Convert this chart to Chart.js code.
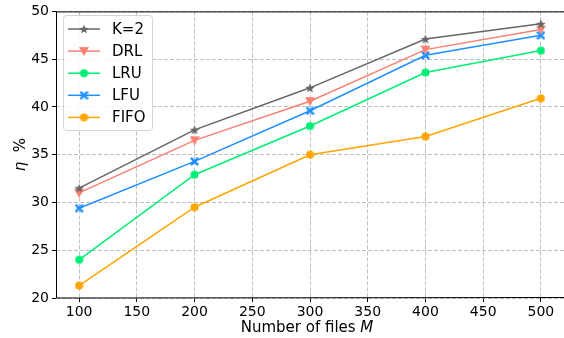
<!DOCTYPE html>
<html>
<head>
<meta charset="utf-8">
<script src="https://cdn.jsdelivr.net/npm/chart.js@4"></script>
<style>
  html, body { margin: 0; padding: 0; background: #fff; }
  #wrap { width: 564px; height: 338px; }
</style>
</head>
<body>
<div id="wrap"><canvas id="chart" width="564" height="338"></canvas></div>
<script>
// Data
const files = [100, 200, 300, 400, 500];
const k2 = [31.5, 37.6, 42.0, 47.1, 48.7];
const drl = [31.0, 36.5, 40.6, 46.0, 48.1];
const lru = [24.0, 32.9, 38.0, 43.6, 45.9];
const lfu = [29.4, 34.3, 39.6, 45.4, 47.5];
const fifo = [21.3, 29.5, 35.0, 36.9, 40.9];
const xTicks = [100, 150, 200, 250, 300, 350, 400, 450, 500];
const yTicks = [20, 25, 30, 35, 40, 45, 50];

const FONT = "'DejaVu Sans', sans-serif";

// marker images (matplotlib-like shapes)
function makeMarker(shape, color, size) {
    const c = document.createElement("canvas");
    c.width = size;
    c.height = size;
    const g = c.getContext("2d");
    const m = size / 2;
    g.fillStyle = color;
    g.beginPath();
    if (shape === "star") {
        const ro = m, ri = m * 0.42;
        for (let i = 0; i < 10; i++) {
            const r = i % 2 ? ri : ro;
            const a = -Math.PI / 2 + i * Math.PI / 5;
            g.lineTo(m + r * Math.cos(a), m + 0.5 + r * Math.sin(a));
        }
    } else if (shape === "tridown") {
        g.moveTo(0, 1);
        g.lineTo(size, 1);
        g.lineTo(m, size);
    } else if (shape === "x") {
        const t = size * 0.2;
        const pts = [[0, t], [t, 0], [m, m - t], [size - t, 0], [size, t], [m + t, m],
                     [size, size - t], [size - t, size], [m, m + t], [t, size], [0, size - t], [m - t, m]];
        pts.forEach(p => g.lineTo(p[0], p[1]));
    } else {
        g.arc(m, m, m - 0.5, 0, Math.PI * 2);
    }
    g.closePath();
    g.fill();
    return c;
}

const series = [
    { label: "K=2", data: k2, color: "#666666", marker: makeMarker("star", "#666666", 10) },
    { label: "DRL", data: drl, color: "#fa8072", marker: makeMarker("tridown", "#fa8072", 10) },
    { label: "LRU", data: lru, color: "#00ee76", marker: makeMarker("circle", "#00ee76", 9) },
    { label: "LFU", data: lfu, color: "#1e90ff", marker: makeMarker("x", "#1e90ff", 9) },
    { label: "FIFO", data: fifo, color: "#ffa500", marker: makeMarker("circle", "#ffa500", 9) }
];

// frame, axis titles and legend
const decor = {
    id: "decor",
    afterDatasetsDraw(chart) {
        const { ctx, chartArea: a } = chart;
        ctx.save();
        ctx.strokeStyle = "#000";
        ctx.lineWidth = 1;
        ctx.beginPath();
        ctx.moveTo(a.left + 0.5, a.top + 0.5);
        ctx.lineTo(a.right + 2, a.top + 0.5);
        ctx.moveTo(a.left + 0.5, a.top);
        ctx.lineTo(a.left + 0.5, a.bottom);
        ctx.lineTo(a.right + 2, a.bottom - 0.5);
        ctx.stroke();

        // x title
        ctx.fillStyle = "#000";
        ctx.textBaseline = "alphabetic";
        const t1 = "Number of files ";
        ctx.font = "15px " + FONT;
        const w1 = ctx.measureText(t1).width;
        ctx.font = "italic 15px " + FONT;
        const w2 = ctx.measureText("M").width;
        const x0 = 307 - (w1 + w2) / 2;
        ctx.textAlign = "left";
        ctx.font = "15px " + FONT;
        ctx.fillText(t1, x0, 332);
        ctx.font = "italic 15px " + FONT;
        ctx.fillText("M", x0 + w1, 332);

        // y title
        ctx.translate(25, (a.top + a.bottom) / 2);
        ctx.rotate(-Math.PI / 2);
        ctx.font = "italic 15px " + FONT;
        const we = ctx.measureText("η").width;
        ctx.font = "15px " + FONT;
        const wp = ctx.measureText("  %").width;
        const y0 = -(we + wp) / 2;
        ctx.font = "italic 15px " + FONT;
        ctx.fillText("η", y0, 0);
        ctx.font = "15px " + FONT;
        ctx.fillText("  %", y0 + we, 0);
        ctx.restore();

        // legend
        ctx.save();
        const lx = 63, ly = 15, lw = 89, lh = 115;
        ctx.fillStyle = "rgba(255,255,255,0.85)";
        ctx.strokeStyle = "#d6d6d6";
        ctx.lineWidth = 1;
        ctx.beginPath();
        ctx.roundRect(lx + 0.5, ly + 0.5, lw, lh, 3);
        ctx.fill();
        ctx.stroke();
        ctx.font = "15px " + FONT;
        ctx.textBaseline = "middle";
        ctx.textAlign = "left";
        series.forEach((s, i) => {
            const yy = 29 + i * 22.1;
            ctx.strokeStyle = s.color;
            ctx.lineWidth = 1.5;
            ctx.beginPath();
            ctx.moveTo(68, yy);
            ctx.lineTo(100, yy);
            ctx.stroke();
            ctx.drawImage(s.marker, 84 - s.marker.width / 2, yy - s.marker.height / 2);
            ctx.fillStyle = "#000";
            ctx.fillText(s.label, 112, yy + 1);
        });
        ctx.restore();
    }
};

new Chart(document.getElementById("chart").getContext("2d"), {
    type: "line",
    data: {
        datasets: series.map(s => ({
            label: s.label,
            data: files.map((f, i) => ({ x: f, y: s.data[i] })),
            borderColor: s.color,
            backgroundColor: s.color,
            borderWidth: 1.5,
            pointStyle: s.marker,
            pointRadius: 5,
            pointHoverRadius: 5,
            tension: 0,
            clip: false
        }))
    },
    options: {
        responsive: false,
        animation: false,
        events: [],
        layout: { autoPadding: false, padding: { top: 8, right: 0, left: 0, bottom: 0 } },
        plugins: {
            legend: { display: false },
            tooltip: { enabled: false }
        },
        scales: {
            x: {
                type: "linear",
                min: 80,
                max: 520,
                afterBuildTicks: scale => { scale.ticks = xTicks.map(v => ({ value: v })); },
                afterFit: scale => { scale.height = 40; },
                grid: {
                    color: "#b0b0b0",
                    lineWidth: 0.8,
                    tickColor: "#000",
                    tickLength: 4,
                    tickWidth: 1
                },
                border: { display: false, dash: [4, 2] },
                ticks: {
                    color: "#000",
                    font: { family: FONT, size: 14 },
                    padding: 2,
                    maxRotation: 0,
                    autoSkip: false
                }
            },
            y: {
                type: "linear",
                min: 20,
                max: 50,
                afterBuildTicks: scale => { scale.ticks = yTicks.map(v => ({ value: v })); },
                afterFit: scale => { scale.width = 56; },
                grid: {
                    color: "#b0b0b0",
                    lineWidth: 0.8,
                    tickColor: "#000",
                    tickLength: 4,
                    tickWidth: 1
                },
                border: { display: false, dash: [4, 2] },
                ticks: {
                    color: "#000",
                    font: { family: FONT, size: 14 },
                    padding: 3,
                    autoSkip: false
                }
            }
        }
    },
    plugins: [decor]
});
</script>
</body>
</html>
